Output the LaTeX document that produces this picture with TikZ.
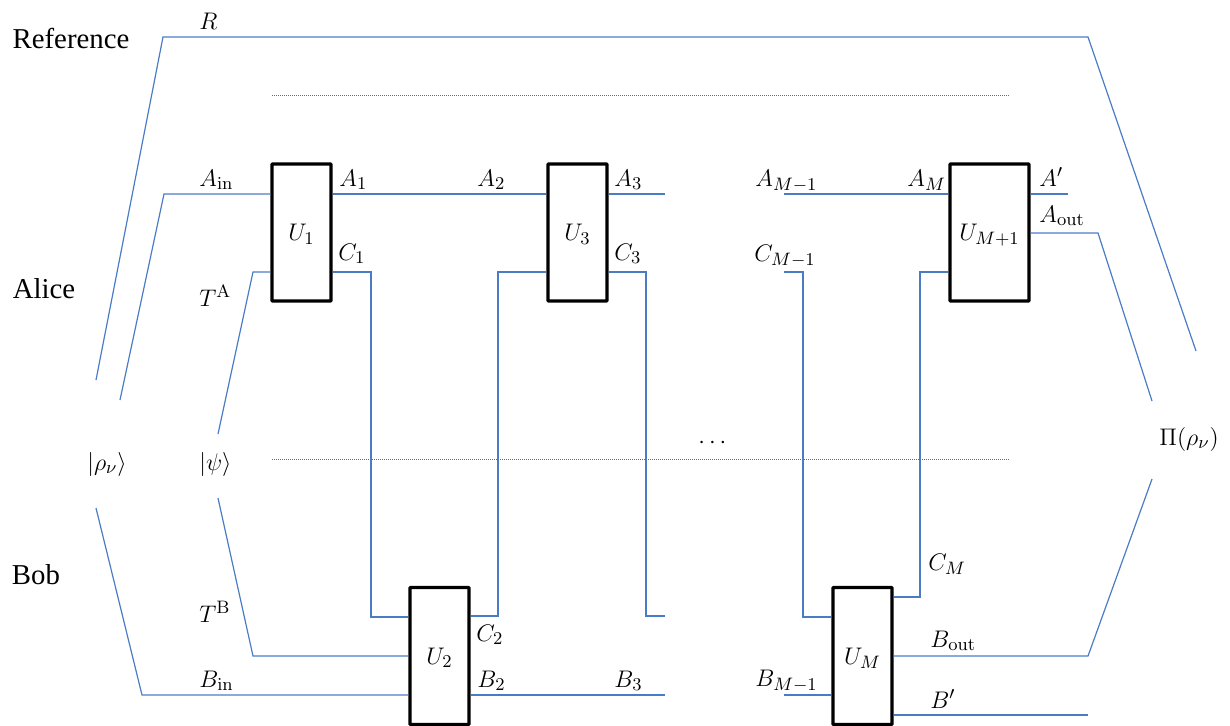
\documentclass[tikz,border=0pt]{standalone}
\usepackage[no-math]{fontspec}
\usepackage{amssymb}
\usepackage{tikz}
\usepackage{xcolor}
\usetikzlibrary{
    calc,
    positioning
}
\newfontfamily\partyfont{Liberation Serif}
\definecolor{wireblue}{HTML}{4A7CC6}
\definecolor{cutgray}{HTML}{5F6B80}
\tikzset{
    wire/.style={draw=wireblue, line width=0.6pt, line join=miter},
    cutline/.style={draw=cutgray, line width=0.5pt, dotted, dash pattern=on 0.5pt off 0.5pt},
    gatebox/.style={draw=black, line width=1.7pt, rounded corners=0.4pt, fill=white, inner sep=0pt,
        minimum height=68.5pt, text height=9.5pt, text depth=1.5pt, font=\fontsize{12.2}{14}\selectfont},
    lbl/.style={inner sep=0pt, anchor=base west, font=\fontsize{12.2}{14}\selectfont},
    party/.style={inner sep=0pt, font=\partyfont\fontsize{14.4}{16}\selectfont}
}
\begin{document}
\begin{tikzpicture}[x=0.5pt, y=-0.5pt]
                                \useasboundingbox (0, 0) rectangle (1230, 725);
                                % parties
                                \node[party] (ref) at (71, 38) {Reference};
                                \node[party] (alice) at (44, 289) {Alice};
                                \node[party] (bob) at (36, 575) {Bob};
                                % cuts
                                \coordinate (cutAl) at (272, 95);
                                \coordinate (cutAr) at (1009, 95);
                                \coordinate (cutBl) at (272, 459);
                                \coordinate (cutBr) at (1009, 459);
                                \draw[cutline] (cutAl) -- (cutAr);
                                \draw[cutline] (cutBl) -- (cutBr);
                                % wires sit under the gates
                                \coordinate (rA) at (96, 380);
                                \coordinate (rB) at (1196, 351);
                                \coordinate (ainA) at (120, 400);
                                \coordinate (taA) at (218, 434);
                                \coordinate (tbA) at (218, 498);
                                \coordinate (binA) at (96, 508);
                                \coordinate (aoutA) at (1152, 401);
                                \coordinate (boutA) at (1152, 479);
                                \coordinate (a3end) at (665, 194);
                                \coordinate (c3end) at (665, 616);
                                \coordinate (b3end) at (665, 695);
                                \coordinate (amstart) at (784, 194);
                                \coordinate (cmstart) at (784, 272);
                                \coordinate (bmstart) at (784, 695);
                                \coordinate (apend) at (1068, 194);
                                \coordinate (bpend) at (1088, 715);
                                % gates
                                \node[gatebox, minimum width=29.5pt] (u1) at (301.5, 232.5) {$U_1$};
                                \node[gatebox, minimum width=29.5pt] (u2) at (439.5, 656) {$U_2$};
                                \node[gatebox, minimum width=29.5pt] (u3) at (577.5, 232.5) {$U_3$};
                                \node[gatebox, minimum width=29.5pt] (um) at (862.5, 656) {$U_M$};
                                \node[gatebox, minimum width=39.5pt] (up) at (989.5, 232.5) {$U_{M+1}$};
                                % state labels
                                \node[lbl] (rho) at (87, 470) {$|\rho_\nu\rangle$};
                                \node[lbl] (psi) at (199, 470) {$|\psi\rangle$};
                                \node[lbl] (pi) at (1159, 445) {$\Pi(\rho_\nu)$};
                                \node[lbl] (dots) at (698, 448) {$\cdots$};
                                % wires
                                \draw[wire] (rA) -- (163, 37) -- (1088, 37) -- (rB);
                                \draw[wire] (ainA) -- (164, 194) -- (u1.west |- 0, 194);
                                \draw[wire] (u1.east |- 0, 194) -- (u3.west |- 0, 194);
                                \draw[wire] (u3.east |- 0, 194) -- (a3end);
                                \draw[wire] (amstart) -- (up.west |- 0, 194);
                                \draw[wire] (up.east |- 0, 194) -- (apend);
                                \draw[wire] (up.east |- 0, 233) -- (1098, 233) -- (aoutA);
                                \draw[wire] (taA) -- (253, 272) -- (u1.west |- 0, 272);
                                \draw[wire] (u1.east |- 0, 272) -- (371, 272) -- (371, 617) -- (u2.west |- 0, 617);
                                \draw[wire] (u2.east |- 0, 616) -- (498, 616) -- (498, 272) -- (u3.west |- 0, 272);
                                \draw[wire] (u3.east |- 0, 272) -- (646, 272) -- (646, 616) -- (c3end);
                                \draw[wire] (cmstart) -- (803, 272) -- (803, 617) -- (um.west |- 0, 617);
                                \draw[wire] (um.east |- 0, 597) -- (920, 597) -- (920, 272) -- (up.west |- 0, 272);
                                \draw[wire] (tbA) -- (253, 656) -- (u2.west |- 0, 656);
                                \draw[wire] (binA) -- (142, 695) -- (u2.west |- 0, 695);
                                \draw[wire] (u2.east |- 0, 695) -- (b3end);
                                \draw[wire] (bmstart) -- (um.west |- 0, 695);
                                \draw[wire] (um.east |- 0, 656) -- (1088, 656) -- (boutA);
                                \draw[wire] (um.east |- 0, 715) -- (bpend);
                                % wire labels
                                \node[lbl] (lR) at (199, 29) {$R$};
                                \node[lbl] (lAin) at (199, 186) {$A_{\mathrm{in}}$};
                                \node[lbl] (lA1) at (339, 186) {$A_1$};
                                \node[lbl] (lA2) at (477, 186) {$A_2$};
                                \node[lbl] (lA3) at (614, 186) {$A_3$};
                                \node[lbl] (lAm) at (755, 186) {$A_{M-1}$};
                                \node[lbl] (lAM) at (907, 186) {$A_M$};
                                \node[lbl] (lAp) at (1039, 186) {$A'$};
                                \node[lbl] (lAout) at (1039, 222) {$A_{\mathrm{out}}$};
                                \node[lbl] (lC1) at (338, 260) {$C_1$};
                                \node[lbl] (lC3) at (614, 260) {$C_3$};
                                \node[lbl] (lCm) at (754, 261) {$C_{M-1}$};
                                \node[lbl] (lTA) at (199, 306) {$T^{\mathrm{A}}$};
                                \node[lbl] (lTB) at (199, 622) {$T^{\mathrm{B}}$};
                                \node[lbl] (lCM) at (928, 570) {$C_M$};
                                \node[lbl] (lC2) at (476, 641) {$C_2$};
                                \node[lbl] (lBout) at (930, 647) {$B_{\mathrm{out}}$};
                                \node[lbl] (lBin) at (199, 687) {$B_{\mathrm{in}}$};
                                \node[lbl] (lB2) at (477, 687) {$B_2$};
                                \node[lbl] (lB3) at (614, 687) {$B_3$};
                                \node[lbl] (lBm) at (755, 686) {$B_{M-1}$};
                                \node[lbl] (lBp) at (930, 708) {$B'$};
                            \end{tikzpicture}
\end{document}
